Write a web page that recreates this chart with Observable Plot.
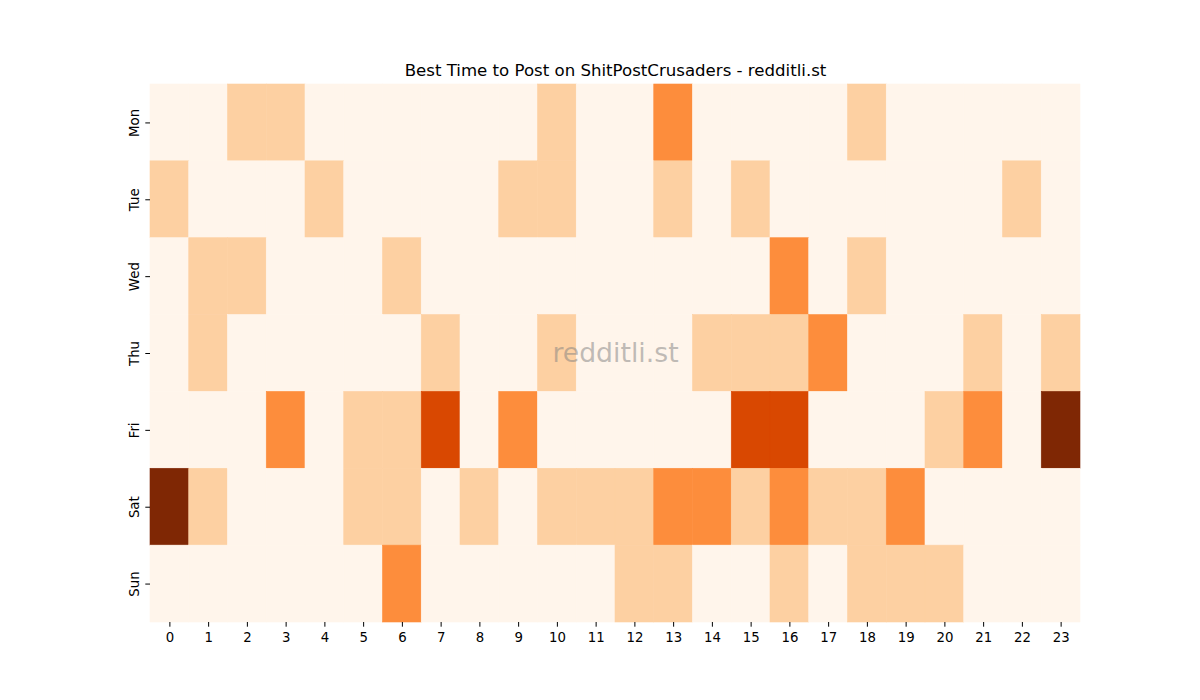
<!DOCTYPE html>
<html>
<head>
<meta charset="utf-8">
<script src="https://cdn.jsdelivr.net/npm/d3@7"></script>
<script src="https://cdn.jsdelivr.net/npm/@observablehq/plot@0.6"></script>
<style>
  html, body { margin: 0; padding: 0; background: #fff; }
  #chart svg { display: block; }
</style>
</head>
<body>
<div id="chart"></div>
<script>
const days = ["Mon", "Tue", "Wed", "Thu", "Fri", "Sat", "Sun"];
const hours = [0,1,2,3,4,5,6,7,8,9,10,11,12,13,14,15,16,17,18,19,20,21,22,23];
const mon = [0,0,1,1,0,0,0,0,0,0,1,0,0,2,0,0,0,0,1,0,0,0,0,0];
const tue = [1,0,0,0,1,0,0,0,0,1,1,0,0,1,0,1,0,0,0,0,0,0,1,0];
const wed = [0,1,1,0,0,0,1,0,0,0,0,0,0,0,0,0,2,0,1,0,0,0,0,0];
const thu = [0,1,0,0,0,0,0,1,0,0,1,0,0,0,1,1,1,2,0,0,0,1,0,1];
const fri = [0,0,0,2,0,1,1,3,0,2,0,0,0,0,0,3,3,0,0,0,1,2,0,4];
const sat = [4,1,0,0,0,1,1,0,1,0,1,1,1,2,2,1,2,1,1,2,0,0,0,0];
const sun = [0,0,0,0,0,0,2,0,0,0,0,0,1,1,0,0,1,0,1,1,1,0,0,0];
const levels = [0,1,2,3,4];
const levelColors = ["#fff5eb", "#fdd0a2", "#fd8d3c", "#d94801", "#7f2704"];
const title = "Best Time to Post on ShitPostCrusaders - redditli.st";
const watermark = "redditli.st";

const rows = [mon, tue, wed, thu, fri, sat, sun];
const data = [];
rows.forEach((r, i) => r.forEach((v, h) => data.push({day: days[i], hour: hours[h], value: v})));

const chart = Plot.plot({
  width: 1200,
  height: 700,
  marginTop: 84,
  marginBottom: 78,
  marginLeft: 150,
  marginRight: 120,
  style: {fontFamily: "DejaVu Sans", fontSize: "13.3px", color: "#000", background: "#fff"},
  x: {type: "band", domain: hours, padding: 0, round: false, label: null},
  y: {type: "band", domain: days, padding: 0, round: false, label: null},
  color: {type: "ordinal", domain: levels, range: levelColors},
  marks: [
    Plot.cell(data, {x: "hour", y: "day", fill: "value", stroke: "value", strokeWidth: 0.6, inset: 0}),
    Plot.axisX({tickSize: 4.7, tickPadding: 5, fontSize: 13.3, label: null, stroke: "#000"}),
    Plot.axisY({tickSize: 4.7, tickPadding: 7, tickRotate: -90, fontSize: 13.3, label: null, stroke: "#000"}),
    Plot.text([title], {frameAnchor: "top", lineAnchor: "middle", dy: -14, text: d => d, fontSize: 16.6, fill: "#000"}),
    Plot.text([watermark], {frameAnchor: "middle", text: d => d, fontSize: 26.7, fill: "#808080", fillOpacity: 0.5})
  ]
});
document.getElementById("chart").appendChild(chart);
</script>
</body>
</html>
